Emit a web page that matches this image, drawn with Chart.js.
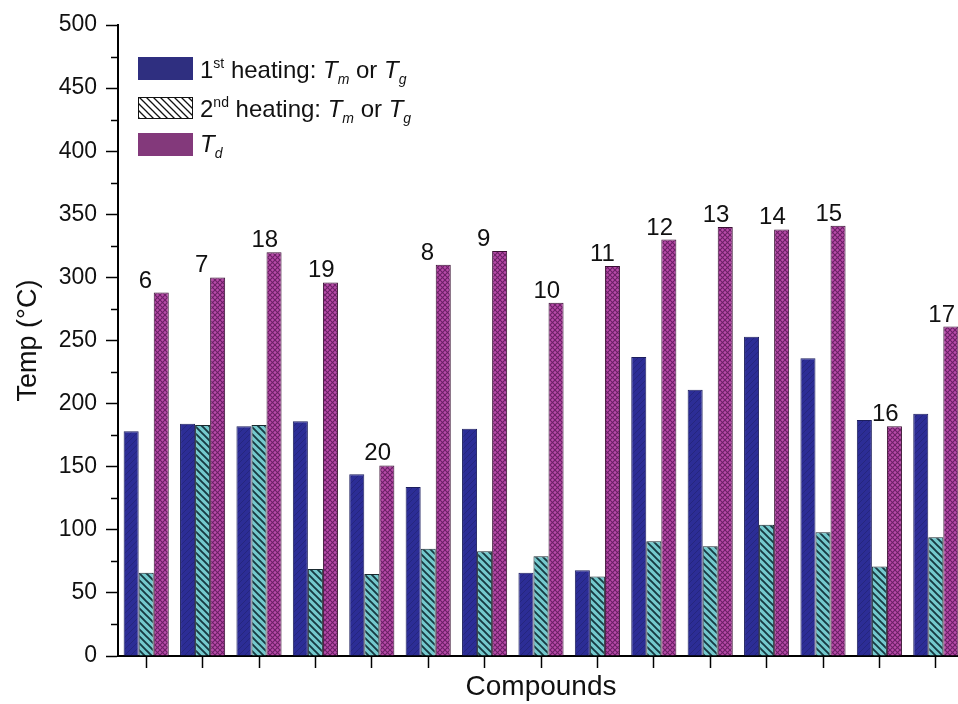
<!doctype html>
<html>
<head>
<meta charset="UTF-8">
<title>Thermal data of compounds</title>
<script src="https://cdn.jsdelivr.net/npm/chart.js@4.4.0/dist/chart.umd.min.js"></script>
<style>
body{
	margin:0;
	background:#fff;
	overflow:hidden;
}
.wrap{
	width:964px;
	height:704px;
}
</style>
</head>
<body>

<div class="wrap"><canvas id="BarChart" width="964" height="704"></canvas></div>

<script>

// data
var compounds = ['6','7','18','19','20','8','9','10','11','12','13','14','15','16','17'];
var firstHeating = [178, 184, 182, 186, 144, 134, 180, 66, 68, 237, 211, 253, 236, 187, 192];
var secondHeating = [66, 183, 183, 69, 65, 85, 83, 79, 63, 91, 87, 104, 98, 71, 94];
var decomposition = [288, 300, 320, 296, 151, 310, 321, 280, 309, 330, 340, 338, 341, 182, 261];

var yMin = 0, yMax = 500, yStep = 50;

var FONT = "'Liberation Sans', Arial, sans-serif";

// hatch patterns for the bars
function makePattern(size, bg, draw){
	var c = document.createElement('canvas');
	c.width = size; c.height = size;
	var g = c.getContext('2d');
	g.fillStyle = bg;
	g.fillRect(0, 0, size, size);
	draw(g, size);
	return c.getContext('2d').createPattern(c, 'repeat');
}

function back(g, s){
	g.beginPath();
	g.moveTo(-1, -1); g.lineTo(s + 1, s + 1);
	g.moveTo(s - 1, -1); g.lineTo(s + 1, 1);
	g.moveTo(-1, s - 1); g.lineTo(1, s + 1);
	g.stroke();
}
function fwd(g, s){
	g.beginPath();
	g.moveTo(-1, s + 1); g.lineTo(s + 1, -1);
	g.moveTo(-1, 1); g.lineTo(1, -1);
	g.moveTo(s - 1, s + 1); g.lineTo(s + 1, s - 1);
	g.stroke();
}

var bluePat = makePattern(6, '#2c2d96', function(g, s){
	g.strokeStyle = '#25267e'; g.lineWidth = 1; fwd(g, s);
});
var tealPat = makePattern(7, '#74c9cd', function(g, s){
	g.strokeStyle = '#173a42'; g.lineWidth = 1.9; back(g, s);
});
var pinkPat = makePattern(5, '#b84aa9', function(g, s){
	g.strokeStyle = '#6c2166'; g.lineWidth = 1.1; back(g, s); fwd(g, s);
});

// small ticks between the labelled ones
var minorTicks = {
	id: 'minorTicks',
	afterDraw: function(chart){
		var ctx = chart.ctx, y = chart.scales.y, left = chart.chartArea.left;
		ctx.save();
		ctx.strokeStyle = '#000';
		ctx.lineWidth = 1.5;
		for (var v = yMin + yStep / 2; v < yMax; v += yStep){
			var py = Math.round(y.getPixelForValue(v)) + 0.5;
			ctx.beginPath();
			ctx.moveTo(left - 7, py);
			ctx.lineTo(left, py);
			ctx.stroke();
		}
		ctx.restore();
	}
};

// compound numbers over the Td bars
var barLabels = {
	id: 'barLabels',
	afterDatasetsDraw: function(chart){
		var ctx = chart.ctx;
		var meta = chart.getDatasetMeta(2);
		ctx.save();
		ctx.font = '24px ' + FONT;
		ctx.fillStyle = '#111';
		ctx.textAlign = 'left';
		ctx.textBaseline = 'alphabetic';
		meta.data.forEach(function(bar, i){
			ctx.fillText(compounds[i], bar.x - bar.width / 2 - 15, bar.y - 5);
		});
		ctx.restore();
	}
};

// legend with sub/superscripts
function richText(ctx, x, y, parts){
	parts.forEach(function(p){
		var size = p.small ? 14 : 24;
		ctx.font = (p.it ? 'italic ' : '') + size + 'px ' + FONT;
		var dy = p.sup ? -10 : (p.sub ? 6 : 0);
		ctx.fillText(p.t, x, y + dy);
		x += ctx.measureText(p.t).width;
	});
}

var customLegend = {
	id: 'customLegend',
	afterDraw: function(chart){
		var ctx = chart.ctx;
		ctx.save();
		ctx.fillStyle = '#2f2f80';
		ctx.fillRect(138, 57, 55, 23);

		var hatch = makePattern(7, '#fff', function(g, s){ g.strokeStyle = '#111'; g.lineWidth = 1.3; back(g, s); });
		ctx.fillStyle = hatch;
		ctx.fillRect(138, 97, 55, 22);
		ctx.strokeStyle = '#111';
		ctx.lineWidth = 1;
		ctx.strokeRect(138.5, 97.5, 54, 21);

		ctx.fillStyle = '#83397b';
		ctx.fillRect(138, 133, 55, 23);

		ctx.fillStyle = '#111';
		ctx.textBaseline = 'alphabetic';
		ctx.textAlign = 'left';
		richText(ctx, 200, 78, [
			{t:'1'}, {t:'st', small:true, sup:true}, {t:' heating: '},
			{t:'T', it:true}, {t:'m', it:true, small:true, sub:true}, {t:' or '},
			{t:'T', it:true}, {t:'g', it:true, small:true, sub:true}
		]);
		richText(ctx, 200, 117, [
			{t:'2'}, {t:'nd', small:true, sup:true}, {t:' heating: '},
			{t:'T', it:true}, {t:'m', it:true, small:true, sub:true}, {t:' or '},
			{t:'T', it:true}, {t:'g', it:true, small:true, sub:true}
		]);
		richText(ctx, 200, 152, [
			{t:'T', it:true}, {t:'d', it:true, small:true, sub:true}
		]);
		ctx.restore();
	}
};

var ctx = document.getElementById('BarChart');
var BarChart = new Chart(ctx, {
	type: 'bar',
	data: {
		labels: compounds,
		datasets: [{
			label: '1st heating: Tm or Tg',
			data: firstHeating,
			backgroundColor: bluePat,
			borderColor: '#1c1e5e',
			borderWidth: 1
		}, {
			label: '2nd heating: Tm or Tg',
			data: secondHeating,
			backgroundColor: tealPat,
			borderColor: '#1a2a30',
			borderWidth: 1
		}, {
			label: 'Td',
			data: decomposition,
			backgroundColor: pinkPat,
			borderColor: '#3a1034',
			borderWidth: 1
		}]
	},
	options: {
		responsive: false,
		animation: false,
		devicePixelRatio: 1,
		layout: { padding: { top: 25, right: 0, bottom: 0, left: 0 } },
		datasets: { bar: { categoryPercentage: 0.8, barPercentage: 1.0 } },
		plugins: {
			legend: { display: false },
			tooltip: { enabled: false }
		},
		scales: {
			x: {
				offset: true,
				grid: { display: true, drawOnChartArea: false, drawTicks: true, tickLength: 12, tickColor: '#000', tickWidth: 1.5, offset: false },
				border: { display: true, color: '#000', width: 2 },
				ticks: { display: false },
				title: { display: true, text: 'Compounds', color: '#111', font: { family: FONT, size: 28 }, padding: { top: 0, bottom: 0 } },
				afterFit: function(s){ s.height = 48; }
			},
			y: {
				min: yMin,
				max: yMax,
				ticks: { stepSize: yStep, color: '#111', font: { family: FONT, size: 23 }, padding: 9 },
				grid: { display: true, drawOnChartArea: false, tickLength: 12, tickColor: '#000', tickWidth: 1.5 },
				border: { display: true, color: '#000', width: 2 },
				title: { display: true, text: 'Temp (°C)', color: '#111', font: { family: FONT, size: 27 }, padding: { top: 12, bottom: 0 } },
				afterFit: function(s){ s.width = 118; }
			}
		}
	},
	plugins: [minorTicks, barLabels, customLegend]
});

</script>

</body>
</html>
